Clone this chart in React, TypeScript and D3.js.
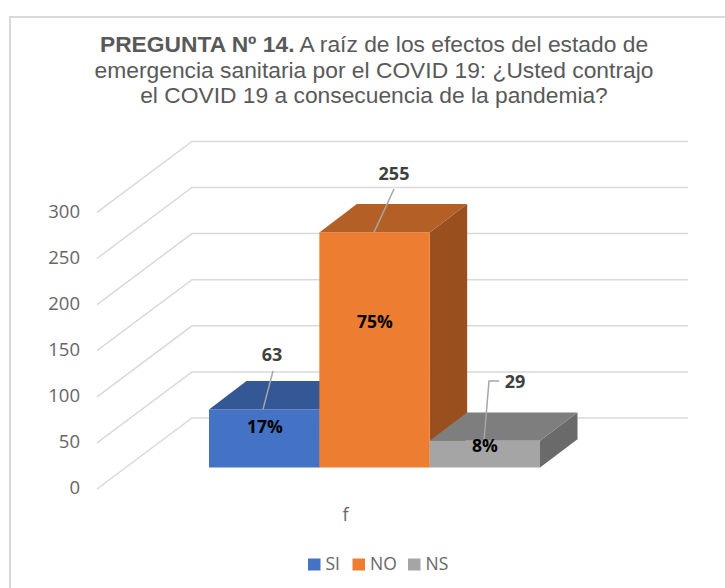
import React from "react";
import * as d3 from "d3";

const categories = ["SI", "NO", "NS"];
const counts = [63, 255, 29];
const percents = ["17%", "75%", "8%"];
const colors = ["#4472c4", "#ed7d31", "#a5a5a5"];
const topColors = ["#345796", "#b45f25", "#7e7e7e"];
const sideColors = ["#2c4a80", "#9a501e", "#6a6a6a"];
const ticks = [0, 50, 100, 150, 200, 250, 300];
const axisTitle = "f";
const titleLines: [string, string][] = [
  ["PREGUNTA  Nº 14.", " A raíz de los efectos del estado de"],
  ["", "emergencia sanitaria por el COVID 19: ¿Usted contrajo"],
  ["", "el COVID 19 a consecuencia de la pandemia?"],
];

const W = 725;
const H = 588;
const y = d3.scaleLinear().domain([0, 300]).range([489, 212.4]);
const x = d3.scaleBand<string>().domain(categories).range([209, 540]).padding(0);
const wall = { dx: 95, dy: -71, right: 688 };
const depth = { dx: 37.5, dy: -28.3 };
const baseShift = { dx: 0, dy: -21.5 };
const barTop = (v: number) => y(v) + baseShift.dy;
const barBase = y(0) + baseShift.dy;

const labelPos = [
  { lx: 272, ly: 355, path: (b: number) => `M263,${b}L273,371` },
  { lx: 394, ly: 174, path: (b: number) => `M374,${b}L394,189` },
  { lx: 515, ly: 382, path: (b: number) => `M484,${b}L489,381H499` },
];
const pctPos = [
  { x: 265, y: 427 },
  { x: 375, y: 322 },
  { x: 485, y: 446 },
];
const legendX = [308, 352.5, 408];

const sans = "'Open Sans', sans-serif";

export default function App() {
  return (
    <svg
      width={W}
      height={H}
      viewBox={`0 0 ${W} ${H}`}
      style={{ position: "absolute", left: 0, top: 0, background: "#fff" }}
    >
      <path d={`M${W},17H10V${H}`} fill="none" stroke="#d9d9d9" strokeWidth={2} />

      <g fontFamily="'Liberation Sans', Arial, sans-serif" fontSize={22.8} fill="#595959" textAnchor="middle">
        {titleLines.map(([bold, rest], i) => (
          <text key={i} x={374} y={52 + i * 25.5}>
            {bold && <tspan fontWeight="bold">{bold}</tspan>}
            {rest}
          </text>
        ))}
      </g>

      {ticks.map((t) => {
        const y0 = y(t);
        const line = d3.line()([
          [97, y0],
          [97 + wall.dx, y0 + wall.dy],
          [wall.right, y0 + wall.dy],
        ]);
        return (
          <g key={t}>
            <path d={line ?? ""} fill="none" stroke="#d9d9d9" strokeWidth={1.5} />
            <text x={80} y={y0 - 1} dy="0.35em" textAnchor="end" fontFamily={sans} fontSize={18.5} fill="#666">
              {t}
            </text>
          </g>
        );
      })}

      {categories.map((c, i) => {
        const x0 = x(c)!;
        const x1 = x0 + x.bandwidth();
        const top = barTop(counts[i]);
        const poly = (pts: [number, number][]) => (d3.line()(pts) ?? "") + "Z";
        return (
          <g key={c}>
            <path
              d={poly([
                [x1, barBase],
                [x1 + depth.dx, barBase + depth.dy],
                [x1 + depth.dx, top + depth.dy],
                [x1, top],
              ])}
              fill={sideColors[i]}
            />
            <path
              d={poly([
                [x0, top],
                [x0 + depth.dx, top + depth.dy],
                [x1 + depth.dx, top + depth.dy],
                [x1, top],
              ])}
              fill={topColors[i]}
            />
            <rect x={x0} y={top} width={x.bandwidth()} height={barBase - top} fill={colors[i]} />
          </g>
        );
      })}

      {categories.map((c, i) => (
        <g key={c}>
          <path d={labelPos[i].path(barTop(counts[i]))} fill="none" stroke="#a6a6a6" strokeWidth={1.5} />
          <text
            x={labelPos[i].lx}
            y={labelPos[i].ly}
            dy="0.35em"
            textAnchor="middle"
            fontFamily={sans}
            fontWeight="bold"
            fontSize={18}
            fill="#404040"
          >
            {counts[i]}
          </text>
          <text
            x={pctPos[i].x}
            y={pctPos[i].y}
            dy="0.35em"
            textAnchor="middle"
            fontFamily={sans}
            fontWeight="bold"
            fontSize={17.5}
            fill="#000"
          >
            {percents[i]}
          </text>
        </g>
      ))}

      <text x={345.5} y={515} dy="0.35em" textAnchor="middle" fontFamily={sans} fontSize={18} fill="#666">
        {axisTitle}
      </text>

      {categories.map((c, i) => (
        <g key={c}>
          <rect x={legendX[i]} y={558.5} width={12.5} height={12} fill={colors[i]} />
          <text x={legendX[i] + 17.5} y={564} dy="0.35em" fontFamily={sans} fontSize={17.5} fill="#666">
            {c}
          </text>
        </g>
      ))}
    </svg>
  );
}
